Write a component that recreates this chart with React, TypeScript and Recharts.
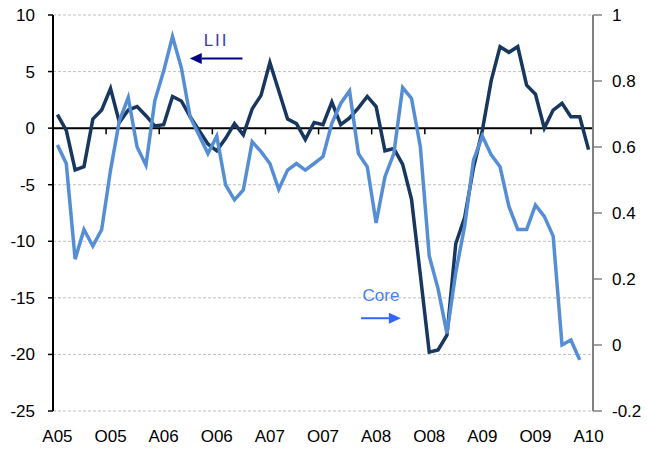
import React from "react";
import {
  LineChart,
  Line,
  XAxis,
  YAxis,
  CartesianGrid,
  ReferenceLine,
} from "recharts";

// monthly categories, Apr 2005 .. Apr 2010
const months = [
  "A05", "M05", "J05", "J05", "A05", "S05", "O05", "N05", "D05",
  "J06", "F06", "M06", "A06", "M06", "J06", "J06", "A06", "S06", "O06", "N06", "D06",
  "J07", "F07", "M07", "A07", "M07", "J07", "J07", "A07", "S07", "O07", "N07", "D07",
  "J08", "F08", "M08", "A08", "M08", "J08", "J08", "A08", "S08", "O08", "N08", "D08",
  "J09", "F09", "M09", "A09", "M09", "J09", "J09", "A09", "S09", "O09", "N09", "D09",
  "J10", "F10", "M10", "A10",
];

// LII, left axis
const lii = [
  1.2, -0.2, -3.7, -3.4, 0.8, 1.6, 3.5, 0.5, 1.6, 1.9,
  1.1, 0.2, 0.3, 2.8, 2.4, 1.0, -0.2, -1.4, -2.0, -0.9,
  0.4, -0.6, 1.7, 2.9, 5.8, 3.3, 0.8, 0.4, -1.0, 0.5,
  0.3, 2.3, 0.3, 0.9, 1.8, 2.8, 1.9, -2.0, -1.8, -3.2,
  -6.3, -13.0, -19.8, -19.6, -18.3, -10.2, -7.9, -3.5, -0.2, 4.2,
  7.2, 6.7, 7.2, 3.8, 3.0, 0.0, 1.6, 2.2, 1.0, 1.0,
  -1.9,
];

// Core, right axis
const core = [
  0.606, 0.55, 0.26, 0.35, 0.3, 0.35, 0.53, 0.68, 0.75, 0.6,
  0.545, 0.74, 0.83, 0.935, 0.84, 0.69, 0.636, 0.58, 0.633, 0.485,
  0.44, 0.47, 0.616, 0.586, 0.55, 0.472, 0.53, 0.55, 0.53, 0.55,
  0.571, 0.672, 0.732, 0.77, 0.58, 0.54, 0.37, 0.51, 0.58, 0.78,
  0.747, 0.6, 0.27, 0.17, 0.035, 0.22, 0.36, 0.56, 0.633, 0.576,
  0.54, 0.42, 0.35, 0.35, 0.424, 0.39, 0.33, 0.0, 0.015, -0.045,
  null,
];

const xTicks = [0, 6, 12, 18, 24, 30, 36, 42, 48, 54, 60];
const leftTicks = [-25, -20, -15, -10, -5, 0, 5, 10];
const rightTicks = [-0.2, 0, 0.2, 0.4, 0.6, 0.8, 1];

const data = months.map((m, i) => ({ i, month: m, lii: lii[i], core: core[i] }));

// small tick marks sit between categories on the zero line
const boundaries = xTicks.slice(1).map((t) => t - 0.5);

const FONT = "'Liberation Sans', Arial, sans-serif";

function makeArrow(label: string, lineColor: string, textColor: string, textLift: number) {
  // eslint-disable-next-line @typescript-eslint/no-explicit-any
  return (props: any) => {
    const { x1, y1, x2, y2 } = props;
    if (x1 == null || x2 == null) return null;
    const dir = x2 > x1 ? 1 : -1;
    const head = 12;
    const half = 5.5;
    const midX = (x1 + x2) / 2;
    return (
      <g>
        <line x1={x1} y1={y1} x2={x2 - dir * head} y2={y2} stroke={lineColor} strokeWidth={2} />
        <polygon
          points={`${x2},${y2} ${x2 - dir * head},${y2 - half} ${x2 - dir * head},${y2 + half}`}
          fill={lineColor}
        />
        <text
          x={midX}
          y={y1 - textLift}
          textAnchor="middle"
          fill={textColor}
          fontSize={17}
          fontFamily={FONT}
          letterSpacing={label === "LII" ? 2 : 0}
        >
          {label}
        </text>
      </g>
    );
  };
}

export default function App() {
  return (
    <div style={{ position: "absolute", left: 0, top: 0, background: "#fff" }}>
      <LineChart
        width={647}
        height={449}
        data={data}
        margin={{ top: 15, right: 0, bottom: 8, left: 0 }}
        style={{ fontFamily: FONT }}
      >
        <CartesianGrid
          yAxisId="left"
          vertical={false}
          stroke="#C0C0C0"
          strokeDasharray="3 2"
        />
        <XAxis
          dataKey="i"
          type="number"
          domain={[-0.5, 60.5]}
          ticks={xTicks}
          interval={0}
          tickFormatter={(v) => months[v]}
          axisLine={false}
          tickLine={false}
          tickSize={0}
          tickMargin={19}
          height={30}
          tick={{ fill: "#000", fontSize: 17 }}
        />
        <YAxis
          yAxisId="left"
          domain={[-25, 10]}
          ticks={leftTicks}
          interval={0}
          width={53}
          axisLine={{ stroke: "#000", strokeWidth: 2 }}
          tickLine={{ stroke: "#000", strokeWidth: 1.5 }}
          tickSize={5}
          tickMargin={13}
          tick={{ fill: "#000", fontSize: 17 }}
        />
        <YAxis
          yAxisId="right"
          orientation="right"
          domain={[-0.2, 1]}
          ticks={rightTicks}
          interval={0}
          width={54}
          axisLine={{ stroke: "#808080", strokeWidth: 2 }}
          tickLine={{ stroke: "#808080", strokeWidth: 1.5 }}
          tickSize={9}
          tickMargin={10}
          tickFormatter={(v) => String(Math.round(v * 10) / 10)}
          tick={{ fill: "#000", fontSize: 17 }}
        />
        <ReferenceLine yAxisId="left" y={0} stroke="#000" strokeWidth={2} />
        {boundaries.map((b) => (
          <ReferenceLine
            key={b}
            yAxisId="left"
            segment={[
              { x: b, y: 0 },
              { x: b, y: -0.55 },
            ]}
            stroke="#000"
            strokeWidth={1.5}
          />
        ))}
        <Line
          yAxisId="left"
          dataKey="lii"
          name="LII"
          stroke="#17375E"
          strokeWidth={3.5}
          dot={false}
          isAnimationActive={false}
        />
        <Line
          yAxisId="right"
          dataKey="core"
          name="Core"
          stroke="#558ED5"
          strokeWidth={3.5}
          dot={false}
          isAnimationActive={false}
        />
        <ReferenceLine
          yAxisId="left"
          segment={[
            { x: 20.9, y: 6.15 },
            { x: 14.95, y: 6.15 },
          ]}
          shape={makeArrow("LII", "#000080", "#3B3BA5", 13)}
        />
        <ReferenceLine
          yAxisId="left"
          segment={[
            { x: 34.3, y: -16.8 },
            { x: 38.8, y: -16.8 },
          ]}
          shape={makeArrow("Core", "#3366FF", "#4A7DF0", 17)}
        />
      </LineChart>
    </div>
  );
}
